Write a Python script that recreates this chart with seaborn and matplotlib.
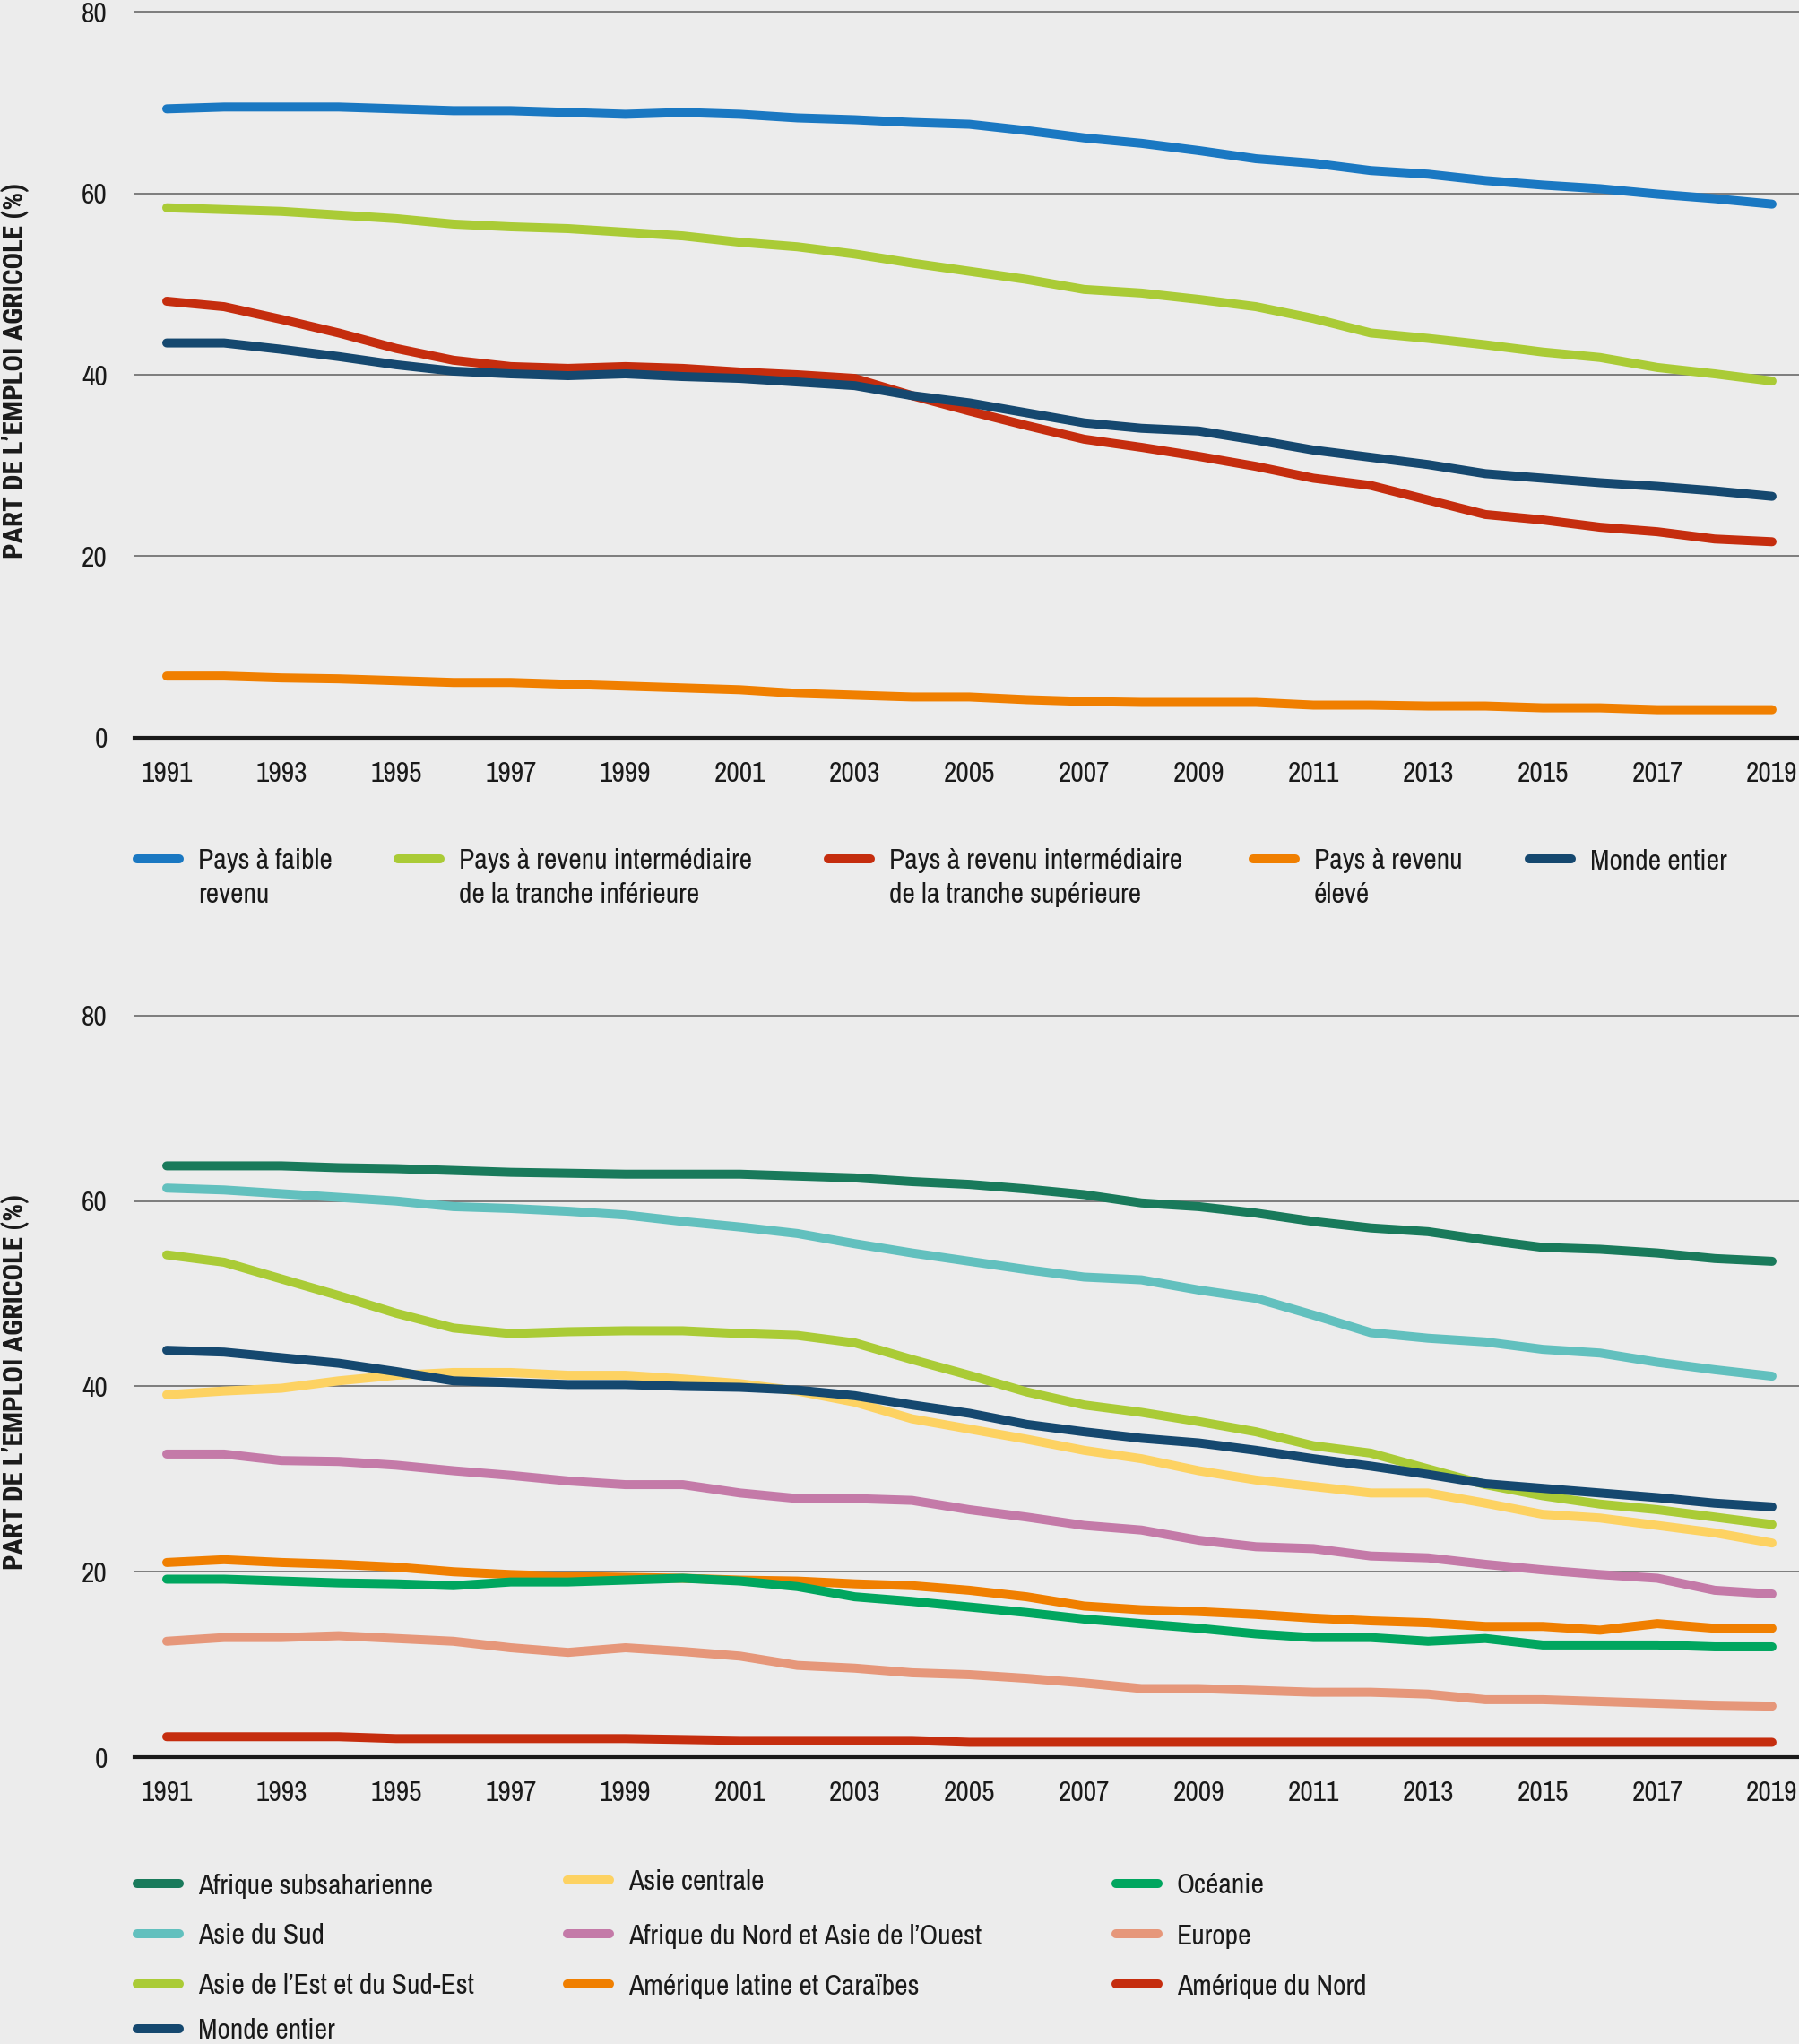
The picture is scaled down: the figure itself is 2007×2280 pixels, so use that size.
import pandas as pd
import seaborn as sns
import matplotlib.pyplot as plt
from matplotlib.lines import Line2D

# Années
annees = list(range(1991, 2020))

# Panneau du haut : groupes de revenu (part de l'emploi agricole, %)
faible = [69.3, 69.5, 69.5, 69.5, 69.3, 69.1, 69.1, 68.9, 68.7, 68.9, 68.7, 68.3, 68.1, 67.8, 67.6,
          66.9, 66.1, 65.5, 64.7, 63.8, 63.3, 62.5, 62.1, 61.4, 60.9, 60.5, 59.9, 59.4, 58.8]
inferieure = [58.4, 58.2, 58.0, 57.6, 57.2, 56.6, 56.3, 56.1, 55.7, 55.3, 54.6, 54.1, 53.3, 52.3, 51.4,
              50.5, 49.4, 49.0, 48.3, 47.5, 46.2, 44.6, 44.0, 43.3, 42.5, 41.9, 40.8, 40.1, 39.3]
superieure = [48.1, 47.5, 46.1, 44.6, 42.9, 41.6, 40.9, 40.7, 40.9, 40.7, 40.3, 40.0, 39.6, 37.7, 36.0,
              34.4, 32.9, 32.0, 31.0, 29.9, 28.6, 27.8, 26.2, 24.6, 24.0, 23.2, 22.7, 21.9, 21.6]
eleve = [6.8, 6.8, 6.6, 6.5, 6.3, 6.1, 6.1, 5.9, 5.7, 5.5, 5.3, 4.9, 4.7, 4.5, 4.5,
         4.2, 4.0, 3.9, 3.9, 3.9, 3.6, 3.6, 3.5, 3.5, 3.3, 3.3, 3.1, 3.1, 3.1]
monde_haut = [43.5, 43.5, 42.8, 42.0, 41.1, 40.4, 40.1, 39.9, 40.1, 39.8, 39.6, 39.2, 38.8, 37.7, 36.9,
              35.8, 34.7, 34.1, 33.8, 32.8, 31.7, 30.9, 30.1, 29.1, 28.6, 28.1, 27.7, 27.2, 26.6]

# Panneau du bas : régions
afr_sub = [63.8, 63.8, 63.8, 63.6, 63.5, 63.3, 63.1, 63.0, 62.9, 62.9, 62.9, 62.7, 62.5, 62.1, 61.8,
           61.3, 60.7, 59.8, 59.4, 58.7, 57.8, 57.1, 56.7, 55.8, 55.0, 54.8, 54.4, 53.8, 53.5]
asie_sud = [61.4, 61.2, 60.8, 60.4, 60.0, 59.4, 59.2, 58.9, 58.5, 57.8, 57.2, 56.5, 55.4, 54.4, 53.5,
            52.6, 51.8, 51.5, 50.4, 49.5, 47.7, 45.8, 45.2, 44.8, 44.0, 43.6, 42.6, 41.8, 41.1]
asie_est = [54.2, 53.4, 51.6, 49.8, 47.9, 46.3, 45.7, 45.9, 46.0, 46.0, 45.7, 45.5, 44.7, 42.9, 41.2,
            39.4, 38.0, 37.2, 36.2, 35.1, 33.6, 32.8, 31.1, 29.4, 28.2, 27.3, 26.7, 25.9, 25.1]
monde_bas = [43.9, 43.7, 43.1, 42.5, 41.6, 40.6, 40.4, 40.2, 40.2, 40.0, 39.9, 39.6, 39.0, 38.0, 37.1,
             35.9, 35.1, 34.4, 33.9, 33.1, 32.2, 31.4, 30.5, 29.5, 29.0, 28.5, 28.0, 27.4, 27.0]
asie_centrale = [39.1, 39.5, 39.8, 40.6, 41.2, 41.5, 41.5, 41.2, 41.2, 40.8, 40.3, 39.5, 38.3, 36.5, 35.4,
                 34.3, 33.1, 32.2, 30.9, 29.9, 29.2, 28.5, 28.5, 27.4, 26.2, 25.8, 25.0, 24.2, 23.1]
afr_nord = [32.7, 32.7, 32.0, 31.9, 31.5, 30.9, 30.4, 29.8, 29.4, 29.4, 28.5, 27.9, 27.9, 27.7, 26.7,
            25.9, 25.0, 24.5, 23.4, 22.7, 22.5, 21.7, 21.5, 20.8, 20.2, 19.7, 19.3, 18.0, 17.6]
am_latine = [21.0, 21.3, 21.0, 20.8, 20.5, 20.0, 19.7, 19.5, 19.4, 19.3, 19.1, 19.0, 18.7, 18.5, 18.0,
             17.3, 16.3, 15.9, 15.7, 15.4, 15.0, 14.7, 14.5, 14.1, 14.1, 13.7, 14.4, 13.9, 13.9]
oceanie = [19.2, 19.2, 19.0, 18.8, 18.7, 18.5, 18.9, 18.9, 19.1, 19.3, 19.0, 18.4, 17.3, 16.8, 16.2,
           15.6, 14.9, 14.4, 13.9, 13.3, 12.9, 12.9, 12.5, 12.8, 12.1, 12.1, 12.1, 11.9, 11.9]
europe = [12.5, 12.9, 12.9, 13.1, 12.8, 12.5, 11.8, 11.3, 11.8, 11.4, 10.9, 9.9, 9.6, 9.1, 8.9,
          8.5, 8.0, 7.4, 7.4, 7.2, 7.0, 7.0, 6.8, 6.2, 6.2, 6.0, 5.8, 5.6, 5.5]
am_nord = [2.2, 2.2, 2.2, 2.2, 2.0, 2.0, 2.0, 2.0, 2.0, 1.9, 1.8, 1.8, 1.8, 1.8, 1.6,
           1.6, 1.6, 1.6, 1.6, 1.6, 1.6, 1.6, 1.6, 1.6, 1.6, 1.6, 1.6, 1.6, 1.6]

# Libellés et couleurs
haut_series = {
    'Pays à faible\nrevenu': (faible, '#1a78c2'),
    'Pays à revenu intermédiaire\nde la tranche inférieure': (inferieure, '#aacb36'),
    'Pays à revenu intermédiaire\nde la tranche supérieure': (superieure, '#c52d0e'),
    'Pays à revenu\nélevé': (eleve, '#f07f00'),
    'Monde entier': (monde_haut, '#15486f'),
}
bas_series = {
    'Afrique subsaharienne': (afr_sub, '#197a5b'),
    'Asie du Sud': (asie_sud, '#62c0be'),
    'Asie de l’Est et du Sud-Est': (asie_est, '#aacb36'),
    'Asie centrale': (asie_centrale, '#fdd262'),
    'Afrique du Nord et Asie de l’Ouest': (afr_nord, '#c47aa8'),
    'Amérique latine et Caraïbes': (am_latine, '#f07f00'),
    'Océanie': (oceanie, '#00a65f'),
    'Europe': (europe, '#e6977a'),
    'Amérique du Nord': (am_nord, '#c52d0e'),
    'Monde entier': (monde_bas, '#15486f'),
}

sns.set_style('white')
# police étroite (Archivo Narrow), titre d'axe en gras étroit
plt.rcParams['font.family'] = ['Archivo Narrow', 'DejaVu Sans']
TITRE_FONT = ['Roboto Condensed', 'Barlow Semi Condensed', 'DejaVu Sans']

W, H = 2007, 2280
FOND = '#ececec'
LW = 7.2
FS = 22.7

fig = plt.figure(figsize=(W / 100, H / 100), dpi=100, facecolor=FOND)
ax1 = fig.add_axes([150 / W, 0.63904, 1857 / W, 0.35969])
ax2 = fig.add_axes([150 / W, 0.14035, 1857 / W, 0.36728])


def tracer(ax, series):
    df = pd.DataFrame([(a, nom, v) for nom, (vals, _) in series.items()
                       for a, v in zip(annees, vals)], columns=['annee', 'groupe', 'part'])
    palette = {nom: c for nom, (_, c) in series.items()}
    sns.lineplot(data=df, x='annee', y='part', hue='groupe', hue_order=list(series),
                 palette=palette, linewidth=LW, solid_capstyle='round', legend=False,
                 estimator=None, ax=ax)
    ax.set_facecolor(FOND)
    ax.set_xlim(1990.437, 2019.47)
    ax.set_ylim(0, 81)
    ax.set_yticks([0, 20, 40, 60, 80])
    ax.set_xticks(range(1991, 2020, 2))
    ax.yaxis.grid(True, color='#5e5e5e', linewidth=1.1)
    ax.xaxis.grid(False)
    ax.set_axisbelow(True)
    for s in ['top', 'right', 'left']:
        ax.spines[s].set_visible(False)
    ax.spines['bottom'].set_linewidth(3)
    ax.spines['bottom'].set_color('#1a1a1a')
    ax.tick_params(axis='y', length=0, pad=21.6, labelsize=FS, labelcolor='#1a1a1a')
    ax.tick_params(axis='x', length=14.4, width=1.2, color='#7a7a7a', pad=4,
                   labelsize=FS, labelcolor='#1a1a1a')
    ax.set_xlabel('')
    ax.set_ylabel('PART DE L’EMPLOI AGRICOLE (%)', fontsize=22.3, fontweight='bold',
                  family=TITRE_FONT, color='#1a1a1a')
    ax.yaxis.set_label_coords(-0.063, 0.5)


tracer(ax1, haut_series)
tracer(ax2, bas_series)


def cle(x, y, couleur, texte):
    fig.add_artist(Line2D([(x + 5) / W, (x + 52) / W], [1 - y / H, 1 - y / H],
                          color=couleur, linewidth=LW, solid_capstyle='round'))
    fig.text((x + 73) / W, 1 - (y - 11.5) / H, texte, ha='left', va='top',
             fontsize=FS, linespacing=1.42, color='#1a1a1a')


# Légende du haut (une ligne)
for x, nom in zip([148, 439, 919, 1393, 1701], haut_series):
    cle(x, 958, haut_series[nom][1], nom)

# Légende du bas (trois colonnes)
positions_bas = {
    'Afrique subsaharienne': (148, 2101),
    'Asie du Sud': (148, 2157),
    'Asie de l’Est et du Sud-Est': (148, 2213),
    'Monde entier': (148, 2263),
    'Asie centrale': (628, 2097),
    'Afrique du Nord et Asie de l’Ouest': (628, 2157),
    'Amérique latine et Caraïbes': (628, 2213),
    'Océanie': (1240, 2101),
    'Europe': (1240, 2157),
    'Amérique du Nord': (1240, 2213),
}
for nom, (x, y) in positions_bas.items():
    cle(x, y, bas_series[nom][1], nom)

fig.savefig('out.png', dpi=100, facecolor=FOND)
